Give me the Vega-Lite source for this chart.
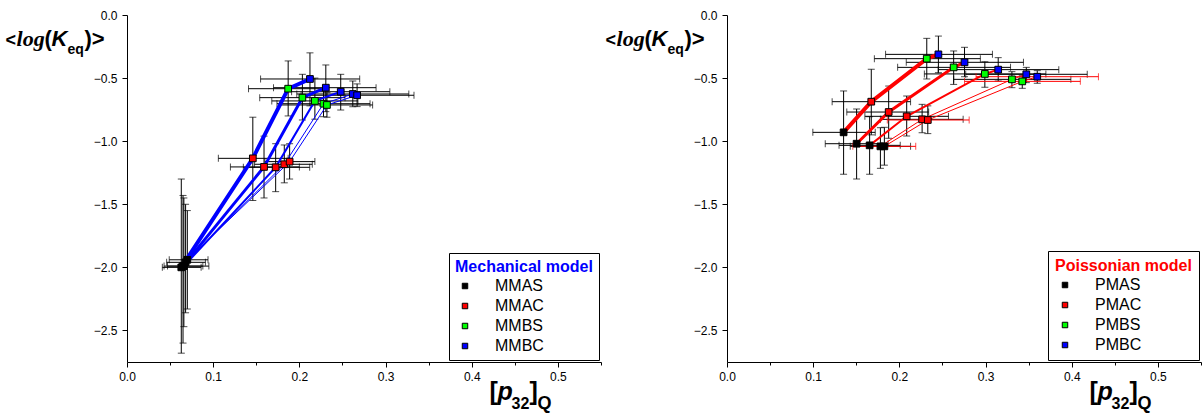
{
"$schema": "https://vega.github.io/schema/vega-lite/v6.json",
"padding": {"left": 5, "top": 9, "right": 0, "bottom": 0},
"config": {"view": {"stroke": null}, "font": "Liberation Sans"},
"datasets": {
"M": [
{"s":1,"k":1,"g":"MMAS","x":0.063,"y":-2.00,"xl":0.041,"xh":0.086,"yl":-2.68,"yh":-1.30},
{"s":2,"k":1,"g":"MMAS","x":0.065,"y":-1.99,"xl":0.043,"xh":0.088,"yl":-2.60,"yh":-1.43},
{"s":3,"k":1,"g":"MMAS","x":0.066,"y":-1.99,"xl":0.047,"xh":0.095,"yl":-2.47,"yh":-1.45},
{"s":4,"k":1,"g":"MMAS","x":0.068,"y":-1.96,"xl":0.046,"xh":0.091,"yl":-2.36,"yh":-1.50},
{"s":5,"k":1,"g":"MMAS","x":0.070,"y":-1.94,"xl":0.049,"xh":0.094,"yl":-2.33,"yh":-1.55},
{"s":1,"k":2,"g":"MMAC","x":0.146,"y":-1.136,"xl":0.106,"xh":0.187,"yl":-1.47,"yh":-0.81},
{"s":2,"k":2,"g":"MMAC","x":0.159,"y":-1.204,"xl":0.120,"xh":0.200,"yl":-1.45,"yh":-0.96},
{"s":3,"k":2,"g":"MMAC","x":0.1725,"y":-1.207,"xl":0.135,"xh":0.212,"yl":-1.40,"yh":-1.02},
{"s":4,"k":2,"g":"MMAC","x":0.1825,"y":-1.183,"xl":0.148,"xh":0.215,"yl":-1.33,"yh":-1.03},
{"s":5,"k":2,"g":"MMAC","x":0.1887,"y":-1.162,"xl":0.160,"xh":0.218,"yl":-1.30,"yh":-1.02},
{"s":1,"k":3,"g":"MMBS","x":0.187,"y":-0.584,"xl":0.141,"xh":0.233,"yl":-0.80,"yh":-0.364},
{"s":2,"k":3,"g":"MMBS","x":0.2035,"y":-0.655,"xl":0.154,"xh":0.253,"yl":-0.832,"yh":-0.47},
{"s":3,"k":3,"g":"MMBS","x":0.218,"y":-0.681,"xl":0.168,"xh":0.268,"yl":-0.826,"yh":-0.50},
{"s":4,"k":3,"g":"MMBS","x":0.228,"y":-0.703,"xl":0.174,"xh":0.282,"yl":-0.806,"yh":-0.60},
{"s":5,"k":3,"g":"MMBS","x":0.232,"y":-0.713,"xl":0.177,"xh":0.285,"yl":-0.81,"yh":-0.615},
{"s":1,"k":4,"g":"MMBC","x":0.2123,"y":-0.507,"xl":0.155,"xh":0.270,"yl":-0.72,"yh":-0.30},
{"s":2,"k":4,"g":"MMBC","x":0.2307,"y":-0.576,"xl":0.170,"xh":0.289,"yl":-0.766,"yh":-0.396},
{"s":3,"k":4,"g":"MMBC","x":0.248,"y":-0.608,"xl":0.191,"xh":0.305,"yl":-0.753,"yh":-0.47},
{"s":4,"k":4,"g":"MMBC","x":0.262,"y":-0.626,"xl":0.197,"xh":0.327,"yl":-0.727,"yh":-0.523},
{"s":5,"k":4,"g":"MMBC","x":0.267,"y":-0.636,"xl":0.202,"xh":0.333,"yl":-0.726,"yh":-0.546}
],
"P": [
{"s":1,"k":1,"g":"PMAS","x":0.1353,"y":-0.930,"xl":0.0996,"xh":0.172,"yl":-1.262,"yh":-0.602},
{"s":2,"k":1,"g":"PMAS","x":0.1504,"y":-1.020,"xl":0.114,"xh":0.187,"yl":-1.30,"yh":-0.745},
{"s":3,"k":1,"g":"PMAS","x":0.1655,"y":-1.033,"xl":0.130,"xh":0.201,"yl":-1.262,"yh":-0.806},
{"s":4,"k":1,"g":"PMAS","x":0.178,"y":-1.041,"xl":0.143,"xh":0.213,"yl":-1.215,"yh":-0.893},
{"s":5,"k":1,"g":"PMAS","x":0.1826,"y":-1.041,"xl":0.146,"xh":0.219,"yl":-1.19,"yh":-0.89},
{"s":1,"k":2,"g":"PMAC","x":0.1674,"y":-0.687,"xl":0.122,"xh":0.213,"yl":-0.95,"yh":-0.43},
{"s":2,"k":2,"g":"PMAC","x":0.1876,"y":-0.769,"xl":0.139,"xh":0.234,"yl":-0.977,"yh":-0.563},
{"s":3,"k":2,"g":"PMAC","x":0.2085,"y":-0.803,"xl":0.160,"xh":0.257,"yl":-0.959,"yh":-0.642},
{"s":4,"k":2,"g":"PMAC","x":0.2264,"y":-0.827,"xl":0.178,"xh":0.274,"yl":-0.933,"yh":-0.708},
{"s":5,"k":2,"g":"PMAC","x":0.233,"y":-0.832,"xl":0.186,"xh":0.281,"yl":-0.94,"yh":-0.72},
{"s":1,"k":3,"g":"PMBS","x":0.2318,"y":-0.346,"xl":0.171,"xh":0.294,"yl":-0.507,"yh":-0.185},
{"s":2,"k":3,"g":"PMBS","x":0.263,"y":-0.415,"xl":0.198,"xh":0.329,"yl":-0.55,"yh":-0.285},
{"s":3,"k":3,"g":"PMBS","x":0.2992,"y":-0.467,"xl":0.229,"xh":0.37,"yl":-0.573,"yh":-0.37},
{"s":4,"k":3,"g":"PMBS","x":0.3306,"y":-0.51,"xl":0.263,"xh":0.399,"yl":-0.576,"yh":-0.449},
{"s":5,"k":3,"g":"PMBS","x":0.3426,"y":-0.526,"xl":0.2756,"xh":0.41,"yl":-0.581,"yh":-0.481},
{"s":1,"k":4,"g":"PMBC","x":0.2453,"y":-0.312,"xl":0.184,"xh":0.308,"yl":-0.457,"yh":-0.167},
{"s":2,"k":4,"g":"PMBC","x":0.2756,"y":-0.375,"xl":0.208,"xh":0.344,"yl":-0.489,"yh":-0.256},
{"s":3,"k":4,"g":"PMBC","x":0.3147,"y":-0.433,"xl":0.245,"xh":0.385,"yl":-0.523,"yh":-0.338},
{"s":4,"k":4,"g":"PMBC","x":0.3473,"y":-0.47,"xl":0.277,"xh":0.418,"yl":-0.536,"yh":-0.415},
{"s":5,"k":4,"g":"PMBC","x":0.360,"y":-0.489,"xl":0.289,"xh":0.431,"yl":-0.541,"yh":-0.441}
]
},
"hconcat": [
{
"width": 474, "height": 347,
"data": {"name": "M"},
"layer": [
{"mark": {"type": "errorbar", "ticks": true, "size": 7, "thickness": 1, "color": "black"},
 "encoding": {
  "x": {"field": "x", "type": "quantitative", "scale": {"domain": [0, 0.55], "nice": false, "zero": false}},
  "y": {"field": "yl", "type": "quantitative", "scale": {"domain": [-2.75, 0], "nice": false, "zero": false}},
  "y2": {"field": "yh"}
 }},
{"mark": {"type": "errorbar", "ticks": true, "size": 7, "thickness": 1, "color": "black"},
 "encoding": {
  "x": {"field": "xl", "type": "quantitative", "scale": {"domain": [0, 0.55], "nice": false, "zero": false}},
  "x2": {"field": "xh"},
  "y": {"field": "y", "type": "quantitative", "scale": {"domain": [-2.75, 0], "nice": false, "zero": false}}
 }},
{"mark": {"type": "line", "color": "#0000ff"},
 "encoding": {
  "x": {"field": "x", "type": "quantitative", "scale": {"domain": [0, 0.55], "nice": false, "zero": false}},
  "y": {"field": "y", "type": "quantitative", "scale": {"domain": [-2.75, 0], "nice": false, "zero": false}},
  "detail": {"field": "s", "type": "nominal"},
  "order": {"field": "k", "type": "quantitative"},
  "strokeWidth": {"field": "s", "type": "nominal", "scale": {"type": "ordinal", "domain": [1,2,3,4,5], "range": [4,3,2,1,1]}, "legend": null}
 }},
{"mark": {"type": "point", "shape": "square", "filled": true, "size": 45, "stroke": "black", "strokeWidth": 1, "opacity": 1},
 "encoding": {
  "x": {"field": "x", "type": "quantitative", "scale": {"domain": [0, 0.55], "nice": false, "zero": false},
   "axis": {"title": null, "values": [0,0.05,0.1,0.15,0.2,0.25,0.3,0.35,0.4,0.45,0.5,0.55], "labelExpr": "abs(datum.value*10 - round(datum.value*10)) < 0.001 ? format(datum.value, '.1f') : ''", "labelFlush": false, "labelOverlap": false, "tickSize": {"condition": {"test": "abs(datum.value*10 - round(datum.value*10)) > 0.001", "value": 3}, "value": 5}, "labelPadding": 4, "labelFontSize": 12, "labelFont": "Liberation Sans", "labelColor": "black", "domainColor": "black", "tickColor": "black", "grid": false}},
  "y": {"field": "y", "type": "quantitative", "scale": {"domain": [-2.75, 0], "nice": false, "zero": false},
   "axis": {"title": null, "values": [0,-0.5,-1,-1.5,-2,-2.5], "format": ".1f", "labelFlush": false, "labelOverlap": false, "tickSize": 5, "labelPadding": 5, "labelFontSize": 12, "labelFont": "Liberation Sans", "labelColor": "black", "domainColor": "black", "tickColor": "black", "grid": false}},
  "color": {"field": "g", "type": "nominal", "scale": {"domain": ["MMAS","MMAC","MMBS","MMBC"], "range": ["#000000","#ff0000","#00ff00","#0000ff"]},
   "legend": {"title": "Mechanical model", "orient": "bottom-right", "offset": 2, "titleColor": "#0000ff", "titleFontSize": 16, "titleFontWeight": "bold", "titleFont": "Liberation Sans", "labelFont": "Liberation Sans", "labelFontSize": 16, "labelColor": "black", "symbolType": "square", "symbolSize": 30, "symbolStrokeColor": "black", "symbolStrokeWidth": 1, "strokeColor": "black", "fillColor": "white", "padding": 6, "rowPadding": 4, "titlePadding": 3, "symbolOffset": 2, "labelOffset": 22}}
 }},
{"data": {"values": [{}]}, "mark": {"type": "text", "text": "<", "font": "Liberation Sans", "fontSize": 18, "fontWeight": "bold", "align": "left", "baseline": "alphabetic", "color": "black"},
 "encoding": {"x": {"datum": -0.141, "type": "quantitative", "scale": {"domain": [0, 0.55], "nice": false, "zero": false}}, "y": {"datum": -0.2457, "type": "quantitative", "scale": {"domain": [-2.75, 0], "nice": false, "zero": false}}}},
{"data": {"values": [{}]}, "mark": {"type": "text", "text": "log", "font": "Liberation Serif", "fontSize": 22, "fontWeight": "bold", "fontStyle": "italic", "align": "left", "baseline": "alphabetic", "color": "black"},
 "encoding": {"x": {"datum": -0.1282, "type": "quantitative", "scale": {"domain": [0, 0.55], "nice": false, "zero": false}}, "y": {"datum": -0.2457, "type": "quantitative", "scale": {"domain": [-2.75, 0], "nice": false, "zero": false}}}},
{"data": {"values": [{}]}, "mark": {"type": "text", "text": "(", "font": "Liberation Sans", "fontSize": 22, "fontWeight": "bold", "align": "left", "baseline": "alphabetic", "color": "black"},
 "encoding": {"x": {"datum": -0.0957, "type": "quantitative", "scale": {"domain": [0, 0.55], "nice": false, "zero": false}}, "y": {"datum": -0.2457, "type": "quantitative", "scale": {"domain": [-2.75, 0], "nice": false, "zero": false}}}},
{"data": {"values": [{}]}, "mark": {"type": "text", "text": "K", "font": "Liberation Sans", "fontSize": 22, "fontWeight": "bold", "fontStyle": "italic", "align": "left", "baseline": "alphabetic", "color": "black"},
 "encoding": {"x": {"datum": -0.0876, "type": "quantitative", "scale": {"domain": [0, 0.55], "nice": false, "zero": false}}, "y": {"datum": -0.2457, "type": "quantitative", "scale": {"domain": [-2.75, 0], "nice": false, "zero": false}}}},
{"data": {"values": [{}]}, "mark": {"type": "text", "text": "eq", "font": "Liberation Sans", "fontSize": 14, "fontWeight": "bold", "align": "left", "baseline": "alphabetic", "color": "black"},
 "encoding": {"x": {"datum": -0.069, "type": "quantitative", "scale": {"domain": [0, 0.55], "nice": false, "zero": false}}, "y": {"datum": -0.309, "type": "quantitative", "scale": {"domain": [-2.75, 0], "nice": false, "zero": false}}}},
{"data": {"values": [{}]}, "mark": {"type": "text", "text": ")>", "font": "Liberation Sans", "fontSize": 22, "fontWeight": "bold", "align": "left", "baseline": "alphabetic", "color": "black"},
 "encoding": {"x": {"datum": -0.0493, "type": "quantitative", "scale": {"domain": [0, 0.55], "nice": false, "zero": false}}, "y": {"datum": -0.2457, "type": "quantitative", "scale": {"domain": [-2.75, 0], "nice": false, "zero": false}}}},
{"data": {"values": [{}]}, "mark": {"type": "text", "text": "[", "font": "Liberation Sans", "fontSize": 25, "fontWeight": "bold", "align": "left", "baseline": "alphabetic", "color": "black"},
 "encoding": {"x": {"datum": 0.4206, "type": "quantitative", "scale": {"domain": [0, 0.55], "nice": false, "zero": false}}, "y": {"datum": -3.051, "type": "quantitative", "scale": {"domain": [-2.75, 0], "nice": false, "zero": false}}}},
{"data": {"values": [{}]}, "mark": {"type": "text", "text": "p", "font": "Liberation Sans", "fontSize": 25, "fontWeight": "bold", "fontStyle": "italic", "align": "left", "baseline": "alphabetic", "color": "black"},
 "encoding": {"x": {"datum": 0.4299, "type": "quantitative", "scale": {"domain": [0, 0.55], "nice": false, "zero": false}}, "y": {"datum": -3.051, "type": "quantitative", "scale": {"domain": [-2.75, 0], "nice": false, "zero": false}}}},
{"data": {"values": [{}]}, "mark": {"type": "text", "text": "32", "font": "Liberation Sans", "fontSize": 16, "fontWeight": "bold", "align": "left", "baseline": "alphabetic", "color": "black"},
 "encoding": {"x": {"datum": 0.4462, "type": "quantitative", "scale": {"domain": [0, 0.55], "nice": false, "zero": false}}, "y": {"datum": -3.1225, "type": "quantitative", "scale": {"domain": [-2.75, 0], "nice": false, "zero": false}}}},
{"data": {"values": [{}]}, "mark": {"type": "text", "text": "]", "font": "Liberation Sans", "fontSize": 25, "fontWeight": "bold", "align": "left", "baseline": "alphabetic", "color": "black"},
 "encoding": {"x": {"datum": 0.4671, "type": "quantitative", "scale": {"domain": [0, 0.55], "nice": false, "zero": false}}, "y": {"datum": -3.051, "type": "quantitative", "scale": {"domain": [-2.75, 0], "nice": false, "zero": false}}}},
{"data": {"values": [{}]}, "mark": {"type": "text", "text": "Q", "font": "Liberation Sans", "fontSize": 18, "fontWeight": "bold", "align": "left", "baseline": "alphabetic", "color": "black"},
 "encoding": {"x": {"datum": 0.4764, "type": "quantitative", "scale": {"domain": [0, 0.55], "nice": false, "zero": false}}, "y": {"datum": -3.1225, "type": "quantitative", "scale": {"domain": [-2.75, 0], "nice": false, "zero": false}}}}
]
},
{
"width": 474, "height": 347,
"data": {"name": "P"},
"layer": [
{"mark": {"type": "errorbar", "ticks": true, "size": 7, "thickness": 1, "color": "black"},
 "encoding": {
  "x": {"field": "x", "type": "quantitative", "scale": {"domain": [0, 0.55], "nice": false, "zero": false}},
  "y": {"field": "yl", "type": "quantitative", "scale": {"domain": [-2.75, 0], "nice": false, "zero": false}},
  "y2": {"field": "yh"}
 }},
{"transform": [{"filter": "datum.s != 5"}],
 "mark": {"type": "errorbar", "ticks": true, "size": 7, "thickness": 1, "color": "black"},
 "encoding": {
  "x": {"field": "xl", "type": "quantitative", "scale": {"domain": [0, 0.55], "nice": false, "zero": false}},
  "x2": {"field": "xh"},
  "y": {"field": "y", "type": "quantitative", "scale": {"domain": [-2.75, 0], "nice": false, "zero": false}}
 }},
{"transform": [{"filter": "datum.s == 5"}],
 "mark": {"type": "errorbar", "ticks": true, "size": 7, "thickness": 1, "color": "#ff0000"},
 "encoding": {
  "x": {"field": "xl", "type": "quantitative", "scale": {"domain": [0, 0.55], "nice": false, "zero": false}},
  "x2": {"field": "xh"},
  "y": {"field": "y", "type": "quantitative", "scale": {"domain": [-2.75, 0], "nice": false, "zero": false}}
 }},
{"mark": {"type": "line", "color": "#ff0000"},
 "encoding": {
  "x": {"field": "x", "type": "quantitative", "scale": {"domain": [0, 0.55], "nice": false, "zero": false}},
  "y": {"field": "y", "type": "quantitative", "scale": {"domain": [-2.75, 0], "nice": false, "zero": false}},
  "detail": {"field": "s", "type": "nominal"},
  "order": {"field": "k", "type": "quantitative"},
  "strokeWidth": {"field": "s", "type": "nominal", "scale": {"type": "ordinal", "domain": [1,2,3,4,5], "range": [4,3,2,1,1]}, "legend": null}
 }},
{"mark": {"type": "point", "shape": "square", "filled": true, "size": 45, "stroke": "black", "strokeWidth": 1, "opacity": 1},
 "encoding": {
  "x": {"field": "x", "type": "quantitative", "scale": {"domain": [0, 0.55], "nice": false, "zero": false},
   "axis": {"title": null, "values": [0,0.05,0.1,0.15,0.2,0.25,0.3,0.35,0.4,0.45,0.5,0.55], "labelExpr": "abs(datum.value*10 - round(datum.value*10)) < 0.001 ? format(datum.value, '.1f') : ''", "labelFlush": false, "labelOverlap": false, "tickSize": {"condition": {"test": "abs(datum.value*10 - round(datum.value*10)) > 0.001", "value": 3}, "value": 5}, "labelPadding": 4, "labelFontSize": 12, "labelFont": "Liberation Sans", "labelColor": "black", "domainColor": "black", "tickColor": "black", "grid": false}},
  "y": {"field": "y", "type": "quantitative", "scale": {"domain": [-2.75, 0], "nice": false, "zero": false},
   "axis": {"title": null, "values": [0,-0.5,-1,-1.5,-2,-2.5], "format": ".1f", "labelFlush": false, "labelOverlap": false, "tickSize": 5, "labelPadding": 5, "labelFontSize": 12, "labelFont": "Liberation Sans", "labelColor": "black", "domainColor": "black", "tickColor": "black", "grid": false}},
  "color": {"field": "g", "type": "nominal", "scale": {"domain": ["PMAS","PMAC","PMBS","PMBC"], "range": ["#000000","#ff0000","#00ff00","#0000ff"]},
   "legend": {"title": "Poissonian model", "orient": "bottom-right", "offset": 2, "titleColor": "#ff0000", "titleFontSize": 16, "titleFontWeight": "bold", "titleFont": "Liberation Sans", "labelFont": "Liberation Sans", "labelFontSize": 16, "labelColor": "black", "symbolType": "square", "symbolSize": 30, "symbolStrokeColor": "black", "symbolStrokeWidth": 1, "strokeColor": "black", "fillColor": "white", "padding": 7, "rowPadding": 4, "titlePadding": 3, "symbolOffset": 2, "labelOffset": 22}}
 }},
{"data": {"values": [{}]}, "mark": {"type": "text", "text": "<", "font": "Liberation Sans", "fontSize": 18, "fontWeight": "bold", "align": "left", "baseline": "alphabetic", "color": "black"},
 "encoding": {"x": {"datum": -0.141, "type": "quantitative", "scale": {"domain": [0, 0.55], "nice": false, "zero": false}}, "y": {"datum": -0.2457, "type": "quantitative", "scale": {"domain": [-2.75, 0], "nice": false, "zero": false}}}},
{"data": {"values": [{}]}, "mark": {"type": "text", "text": "log", "font": "Liberation Serif", "fontSize": 22, "fontWeight": "bold", "fontStyle": "italic", "align": "left", "baseline": "alphabetic", "color": "black"},
 "encoding": {"x": {"datum": -0.1282, "type": "quantitative", "scale": {"domain": [0, 0.55], "nice": false, "zero": false}}, "y": {"datum": -0.2457, "type": "quantitative", "scale": {"domain": [-2.75, 0], "nice": false, "zero": false}}}},
{"data": {"values": [{}]}, "mark": {"type": "text", "text": "(", "font": "Liberation Sans", "fontSize": 22, "fontWeight": "bold", "align": "left", "baseline": "alphabetic", "color": "black"},
 "encoding": {"x": {"datum": -0.0957, "type": "quantitative", "scale": {"domain": [0, 0.55], "nice": false, "zero": false}}, "y": {"datum": -0.2457, "type": "quantitative", "scale": {"domain": [-2.75, 0], "nice": false, "zero": false}}}},
{"data": {"values": [{}]}, "mark": {"type": "text", "text": "K", "font": "Liberation Sans", "fontSize": 22, "fontWeight": "bold", "fontStyle": "italic", "align": "left", "baseline": "alphabetic", "color": "black"},
 "encoding": {"x": {"datum": -0.0876, "type": "quantitative", "scale": {"domain": [0, 0.55], "nice": false, "zero": false}}, "y": {"datum": -0.2457, "type": "quantitative", "scale": {"domain": [-2.75, 0], "nice": false, "zero": false}}}},
{"data": {"values": [{}]}, "mark": {"type": "text", "text": "eq", "font": "Liberation Sans", "fontSize": 14, "fontWeight": "bold", "align": "left", "baseline": "alphabetic", "color": "black"},
 "encoding": {"x": {"datum": -0.069, "type": "quantitative", "scale": {"domain": [0, 0.55], "nice": false, "zero": false}}, "y": {"datum": -0.309, "type": "quantitative", "scale": {"domain": [-2.75, 0], "nice": false, "zero": false}}}},
{"data": {"values": [{}]}, "mark": {"type": "text", "text": ")>", "font": "Liberation Sans", "fontSize": 22, "fontWeight": "bold", "align": "left", "baseline": "alphabetic", "color": "black"},
 "encoding": {"x": {"datum": -0.0493, "type": "quantitative", "scale": {"domain": [0, 0.55], "nice": false, "zero": false}}, "y": {"datum": -0.2457, "type": "quantitative", "scale": {"domain": [-2.75, 0], "nice": false, "zero": false}}}},
{"data": {"values": [{}]}, "mark": {"type": "text", "text": "[", "font": "Liberation Sans", "fontSize": 25, "fontWeight": "bold", "align": "left", "baseline": "alphabetic", "color": "black"},
 "encoding": {"x": {"datum": 0.4206, "type": "quantitative", "scale": {"domain": [0, 0.55], "nice": false, "zero": false}}, "y": {"datum": -3.051, "type": "quantitative", "scale": {"domain": [-2.75, 0], "nice": false, "zero": false}}}},
{"data": {"values": [{}]}, "mark": {"type": "text", "text": "p", "font": "Liberation Sans", "fontSize": 25, "fontWeight": "bold", "fontStyle": "italic", "align": "left", "baseline": "alphabetic", "color": "black"},
 "encoding": {"x": {"datum": 0.4299, "type": "quantitative", "scale": {"domain": [0, 0.55], "nice": false, "zero": false}}, "y": {"datum": -3.051, "type": "quantitative", "scale": {"domain": [-2.75, 0], "nice": false, "zero": false}}}},
{"data": {"values": [{}]}, "mark": {"type": "text", "text": "32", "font": "Liberation Sans", "fontSize": 16, "fontWeight": "bold", "align": "left", "baseline": "alphabetic", "color": "black"},
 "encoding": {"x": {"datum": 0.4462, "type": "quantitative", "scale": {"domain": [0, 0.55], "nice": false, "zero": false}}, "y": {"datum": -3.1225, "type": "quantitative", "scale": {"domain": [-2.75, 0], "nice": false, "zero": false}}}},
{"data": {"values": [{}]}, "mark": {"type": "text", "text": "]", "font": "Liberation Sans", "fontSize": 25, "fontWeight": "bold", "align": "left", "baseline": "alphabetic", "color": "black"},
 "encoding": {"x": {"datum": 0.4671, "type": "quantitative", "scale": {"domain": [0, 0.55], "nice": false, "zero": false}}, "y": {"datum": -3.051, "type": "quantitative", "scale": {"domain": [-2.75, 0], "nice": false, "zero": false}}}},
{"data": {"values": [{}]}, "mark": {"type": "text", "text": "Q", "font": "Liberation Sans", "fontSize": 18, "fontWeight": "bold", "align": "left", "baseline": "alphabetic", "color": "black"},
 "encoding": {"x": {"datum": 0.4764, "type": "quantitative", "scale": {"domain": [0, 0.55], "nice": false, "zero": false}}, "y": {"datum": -3.1225, "type": "quantitative", "scale": {"domain": [-2.75, 0], "nice": false, "zero": false}}}}
]
}
],
"spacing": 126,
"bounds": "flush",
"resolve": {"scale": {"color": "independent"}, "legend": {"color": "independent"}}
}
